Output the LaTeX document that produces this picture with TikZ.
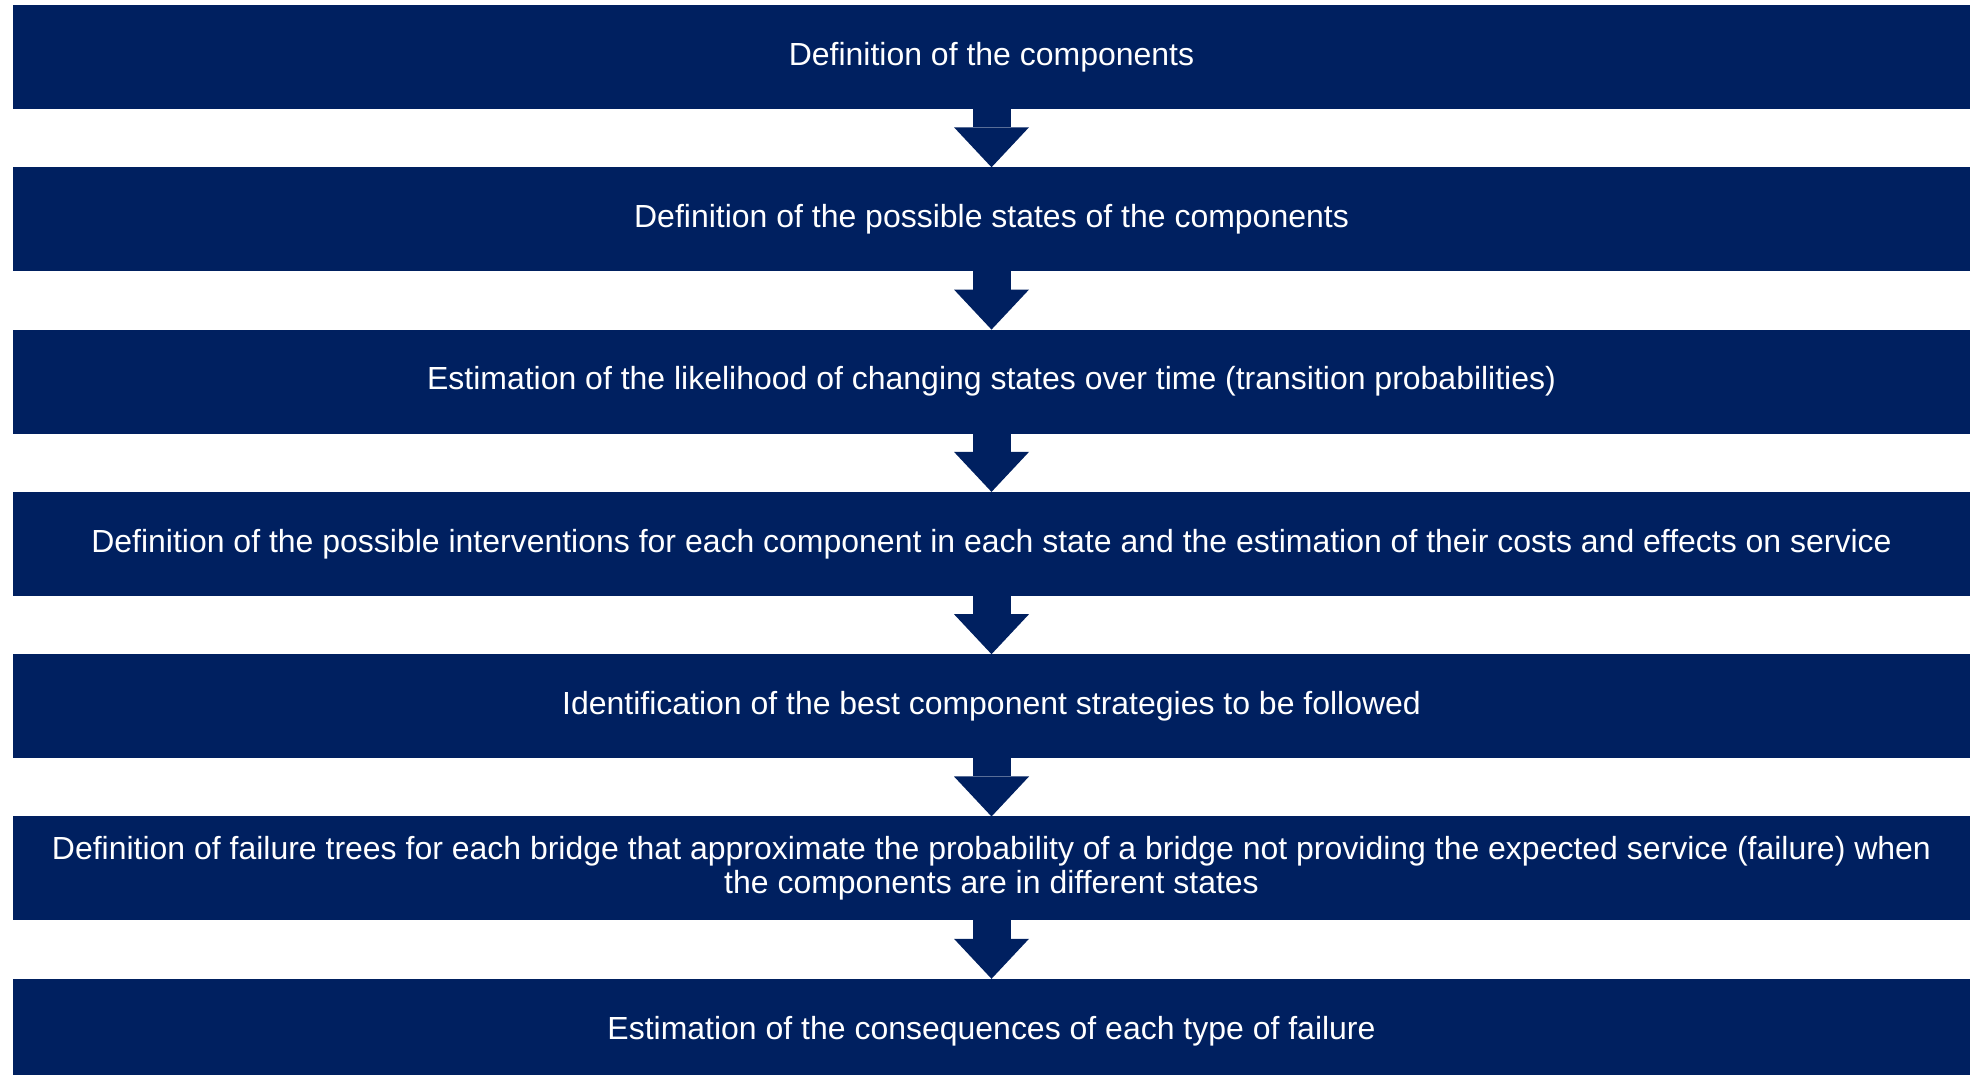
\documentclass[tikz,border=0pt]{standalone}
\usepackage{fontspec}
\setmainfont{Liberation Sans}
\usetikzlibrary{arrows.meta,positioning}

\definecolor{stepblue}{HTML}{002060}

\begin{document}
\begin{tikzpicture}[
    stage/.style={fill=stepblue, text=white, minimum width=19.57cm, minimum height=1.04cm,
        inner sep=0pt, outer sep=0pt, align=center, font=\fontsize{9.1}{9.7}\selectfont},
    flow/.style={stepblue, line width=0.38cm,
        -{Triangle[width=0.75cm, length=0.40cm, line width=0pt]}}
]
    \useasboundingbox (0,0) rectangle (19.75,-10.75);
    \clip (0,0) rectangle (19.75,-10.75);

    % Stages, top to bottom
    \node[stage] (s1) at (9.915,-0.57) {Definition of the components};
    \node[stage, below=0.583cm of s1] (s2) {Definition of the possible states of the components};
    \node[stage, below=0.583cm of s2] (s3) {Estimation of the likelihood of changing states over time (transition probabilities)};
    \node[stage, below=0.583cm of s3] (s4) {Definition of the possible interventions for each component in each state and the estimation of their costs and effects on service};
    \node[stage, below=0.583cm of s4] (s5) {Identification of the best component strategies to be followed};
    \node[stage, below=0.583cm of s5] (s6) {Definition of failure trees for each bridge that approximate the probability of a bridge not providing the expected service (failure) when\\
        the components are in different states};
    \node[stage, below=0.583cm of s6] (s7) {Estimation of the consequences of each type of failure};

    % Block arrows between the stages
    \foreach \a/\b in {s1/s2, s2/s3, s3/s4, s4/s5, s5/s6, s6/s7}
        \draw[flow] (\a) -- (\b);
\end{tikzpicture}
\end{document}
